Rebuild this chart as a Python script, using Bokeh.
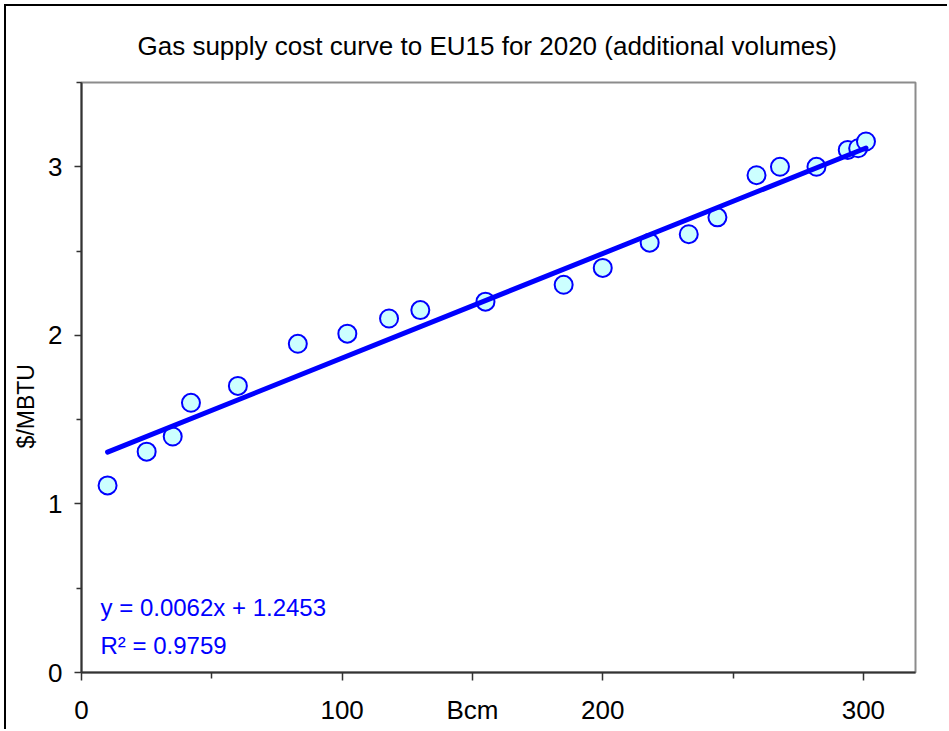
import math
from bokeh.plotting import figure
from bokeh.models import Range1d, FixedTicker, Label
from bokeh.embed import file_html
from bokeh.resources import INLINE

# ---- data ----
volume_bcm = [10, 25, 35, 42, 60, 83, 102, 118, 130, 155, 185, 200, 218, 233, 244,
              259, 268, 282, 294, 298, 301]
cost_usd_mbtu = [1.11, 1.31, 1.40, 1.60, 1.70, 1.95, 2.01, 2.10, 2.15, 2.20, 2.30, 2.40,
                 2.55, 2.60, 2.70, 2.95, 3.00, 3.00, 3.10, 3.11, 3.15]
trend_slope = 0.0062
trend_intercept = 1.2453
r_squared = 0.9759
x_major_ticks = [0, 100, 150, 200, 300]
x_minor_ticks = [50, 250]
x_tick_labels = {0: "0", 100: "100", 150: "Bcm", 200: "200", 300: "300"}
y_major_ticks = [0, 1, 2, 3]
y_minor_ticks = [0.5, 1.5, 2.5, 3.5]
title_text = "Gas supply cost curve to EU15 for 2020 (additional volumes)"
y_title = "$/MBTU"

FONT = "Liberation Sans"
W, H = 943, 725
L, T = 75, 74
FW, FH = 834, 592

p = figure(width=W, height=H, output_backend="svg", toolbar_location=None,
           x_range=Range1d(0, 320), y_range=Range1d(0, 3.5),
           min_border_left=L, min_border_top=T,
           min_border_right=W - L - FW, min_border_bottom=H - T - FH,
           title=title_text)
p.styles = {"margin-left": "4px", "margin-top": "4px",
            "border-left": "2px solid #000000", "border-top": "2px solid #000000"}
p.grid.visible = False
p.background_fill_color = "white"
p.border_fill_color = "white"
p.outline_line_color = "#8c8c8c"
p.outline_line_width = 2

p.title.text_font = FONT
p.title.text_font_size = "26px"
p.title.text_font_style = "normal"
p.title.text_color = "#000000"
p.title.align = "left"
p.title.offset = 56
p.title.standoff = 44

xa = p.xaxis[0]
xa.ticker = FixedTicker(ticks=x_major_ticks, minor_ticks=x_minor_ticks)
xa.major_label_overrides = x_tick_labels
ya = p.yaxis[0]
ya.ticker = FixedTicker(ticks=y_major_ticks, minor_ticks=y_minor_ticks)
for ax in (xa, ya):
    ax.axis_line_color = "#333333"
    ax.axis_line_width = 2
    ax.major_tick_line_color = "#333333"
    ax.minor_tick_line_color = "#333333"
    ax.major_tick_line_width = 1.5
    ax.minor_tick_line_width = 1.5
    ax.major_tick_in = 0
    ax.minor_tick_in = 0
    ax.major_label_text_font = FONT
    ax.major_label_text_font_size = "26px"
    ax.major_label_text_color = "#000000"
xa.major_tick_out = 8
xa.minor_tick_out = 6
xa.major_label_standoff = 14
ya.major_tick_out = 7
ya.minor_tick_out = 5
ya.major_label_standoff = 12
# trailing en spaces push the rotated title slightly below the frame centre, as in the reference
ya.axis_label = y_title + "\u2002" * 5
ya.axis_label_text_font = FONT
ya.axis_label_text_font_size = "23px"
ya.axis_label_text_font_style = "normal"
ya.axis_label_text_color = "#000000"
ya.axis_label_standoff = 6

# scatter first, trendline on top (as in the reference)
p.scatter(volume_bcm, cost_usd_mbtu, size=18, marker="circle",
          fill_color="#ccffff", line_color="#0000ff", line_width=2)
x0, x1 = min(volume_bcm), max(volume_bcm)
p.line([x0, x1], [trend_slope * x0 + trend_intercept, trend_slope * x1 + trend_intercept],
       line_color="#0000ff", line_width=5, line_cap="round")

p.add_layout(Label(x=7.3, y=0.385, text="y = %.4fx + %.4f" % (trend_slope, trend_intercept),
                   text_font=FONT, text_font_size="24px", text_align="left",
                   text_baseline="middle", text_color="#0000ff"))
p.add_layout(Label(x=7.3, y=0.16, text="R\u00b2 = %.4f" % r_squared,
                   text_font=FONT, text_font_size="24px", text_align="left",
                   text_baseline="middle", text_color="#0000ff"))

open("out.html", "w").write(file_html(p, INLINE))
